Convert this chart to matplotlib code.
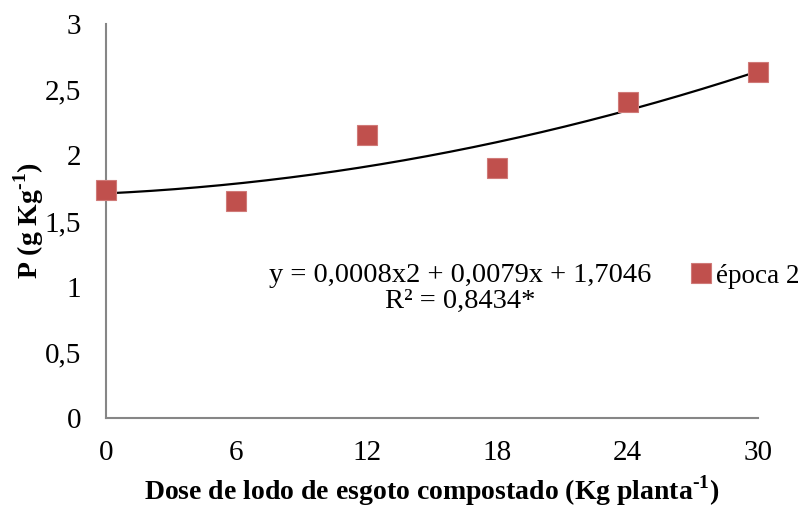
import numpy as np
import matplotlib
matplotlib.use("Agg")
import matplotlib.pyplot as plt

plt.rcParams['font.family'] = ['Liberation Serif', 'DejaVu Serif']
plt.rcParams['mathtext.fontset'] = 'custom'
plt.rcParams['mathtext.rm'] = 'Liberation Serif'
plt.rcParams['mathtext.bf'] = 'Liberation Serif:bold'

doses = [0, 6, 12, 18, 24, 30]
p_values = [1.736, 1.653, 2.155, 1.904, 2.407, 2.635]
xtick_vals = [0, 6, 12, 18, 24, 30]
ytick_vals = [0, 0.5, 1, 1.5, 2, 2.5, 3]
ytick_labels = ["0", "0,5", "1", "1,5", "2", "2,5", "3"]
series_name = "época 2"
equation = "y = 0,0008x2 + 0,0079x + 1,7046\nR² = 0,8434*"

fig = plt.figure(figsize=(8.09, 5.08), dpi=100)
ax = fig.add_axes([0.131, 0.177, 0.806, 0.776])

coef = np.polyfit(doses, p_values, 2)
xs = np.linspace(0, 30, 200)
ax.plot(xs, np.polyval(coef, xs), color='black', lw=1.6, zorder=2)
ax.plot(doses, p_values, ls='none', marker='s', ms=14.5, color='#C0504D',
        mec='#D07A78', mew=0.8, label=series_name, zorder=3, clip_on=False)

ax.set_xlim(0, 30)
ax.set_ylim(0, 3)
ax.set_xticks(xtick_vals)
ax.set_xticklabels([str(v) for v in xtick_vals])
ax.set_yticks(ytick_vals)
ax.set_yticklabels(ytick_labels)
ax.tick_params(axis='both', length=0, labelsize=21)
ax.tick_params(axis='y', pad=18)
ax.tick_params(axis='x', pad=16)
for s in ['top', 'right']:
    ax.spines[s].set_visible(False)
for s in ['left', 'bottom']:
    ax.spines[s].set_color('#868686')
    ax.spines[s].set_linewidth(1.5)

ax.text(0.543, 0.33, equation, transform=ax.transAxes, ha='center', va='center',
        fontsize=20.5, linespacing=1.05)

ax.set_xlabel("Dose de lodo de esgoto compostado (Kg planta$^{\\mathbf{\u2010}\\mathbf{1}}$)",
              fontsize=20, fontweight='bold', labelpad=5)
ax.set_ylabel("P (g Kg$^{\\mathbf{\u2010}\\mathbf{1}}$)", fontsize=20, fontweight='bold',
              ha='center', va='center')
ax.yaxis.set_label_coords(-0.119, 0.5)

leg = ax.legend(loc='center left', bbox_to_anchor=(0.88, 0.36), frameon=False,
                fontsize=19.5, handlelength=0.8, handletextpad=0.15, borderaxespad=0)

fig.savefig("out.png", dpi=100)
